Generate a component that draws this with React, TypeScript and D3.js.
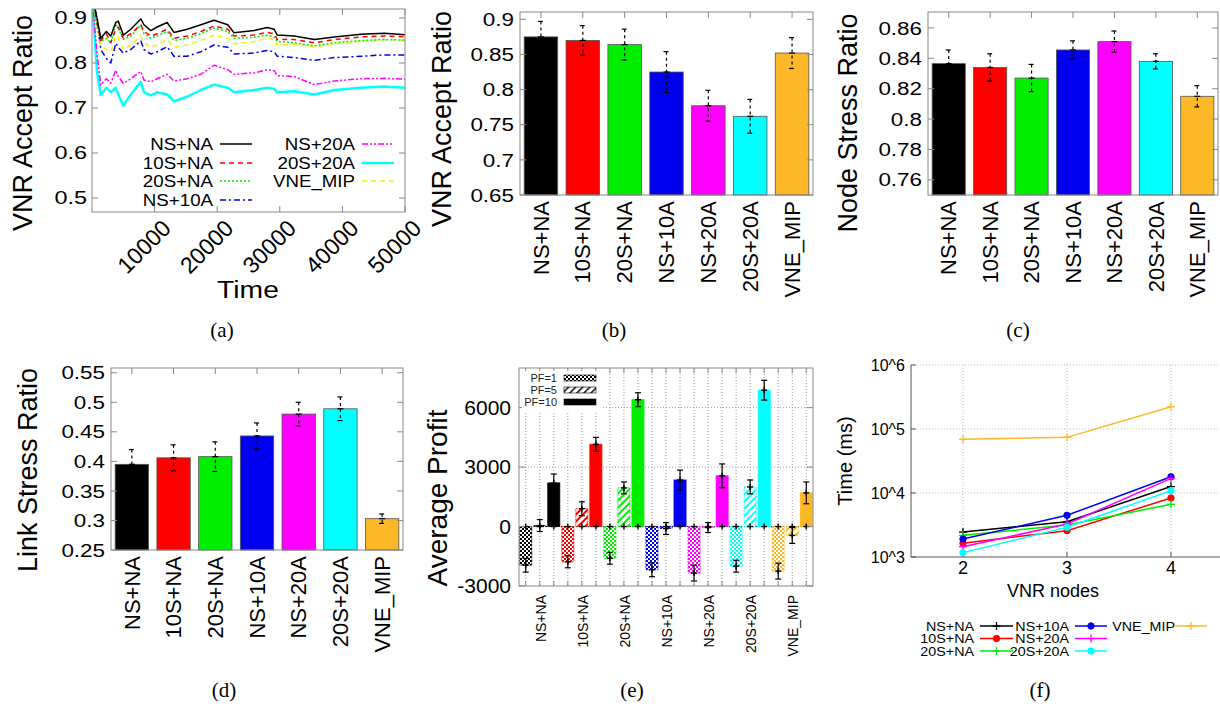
import React from 'react';
import * as d3 from 'd3';

// ---- data ----
const schemes = ['NS+NA', '10S+NA', '20S+NA', 'NS+10A', 'NS+20A', '20S+20A', 'VNE_MIP'];
const colors = ['#000000', '#ff0000', '#00ee00', '#0000ee', '#ff00ff', '#00ffff', '#fdb827'];

// (a) accept ratio over time
const times = [0, 800, 1400, 2300, 3000, 3800, 4200, 5000, 6200, 7800, 8300, 9400, 10400, 12000, 13100, 15200, 17400, 19500, 21700, 22700, 25900, 28000, 29100, 29600, 32300, 35500, 38700, 43000, 46700, 50000];
const acceptNSNA = [0.95, 0.9, 0.855, 0.87, 0.86, 0.89, 0.893, 0.862, 0.875, 0.898, 0.885, 0.872, 0.88, 0.89, 0.868, 0.875, 0.885, 0.895, 0.885, 0.867, 0.872, 0.879, 0.875, 0.862, 0.86, 0.852, 0.858, 0.864, 0.866, 0.863];
const accept10SNA = [0.95, 0.89, 0.85, 0.865, 0.845, 0.875, 0.88, 0.855, 0.865, 0.885, 0.87, 0.86, 0.865, 0.875, 0.855, 0.86, 0.87, 0.882, 0.875, 0.86, 0.862, 0.868, 0.865, 0.852, 0.852, 0.845, 0.852, 0.858, 0.86, 0.858];
const accept20SNA = [0.95, 0.88, 0.848, 0.855, 0.845, 0.887, 0.878, 0.852, 0.86, 0.885, 0.865, 0.855, 0.86, 0.87, 0.85, 0.855, 0.865, 0.878, 0.87, 0.855, 0.857, 0.862, 0.858, 0.848, 0.845, 0.838, 0.845, 0.85, 0.852, 0.851];
const acceptNS10A = [0.95, 0.9, 0.83, 0.81, 0.8, 0.844, 0.835, 0.822, 0.83, 0.849, 0.83, 0.82, 0.825, 0.836, 0.815, 0.815, 0.825, 0.84, 0.835, 0.82, 0.822, 0.828, 0.825, 0.815, 0.812, 0.806, 0.812, 0.815, 0.818, 0.818];
const acceptNS20A = [0.95, 0.82, 0.751, 0.765, 0.755, 0.784, 0.77, 0.755, 0.765, 0.781, 0.762, 0.758, 0.765, 0.775, 0.76, 0.765, 0.775, 0.795, 0.785, 0.775, 0.778, 0.785, 0.783, 0.772, 0.77, 0.752, 0.76, 0.765, 0.766, 0.764];
const accept20S20A = [0.95, 0.78, 0.729, 0.745, 0.735, 0.745, 0.73, 0.705, 0.73, 0.758, 0.735, 0.728, 0.735, 0.73, 0.715, 0.725, 0.74, 0.752, 0.745, 0.735, 0.74, 0.745, 0.742, 0.735, 0.737, 0.73, 0.74, 0.745, 0.748, 0.745];
const acceptMIP = [0.95, 0.88, 0.84, 0.83, 0.825, 0.86, 0.858, 0.83, 0.84, 0.86, 0.845, 0.835, 0.84, 0.852, 0.835, 0.84, 0.85, 0.862, 0.855, 0.842, 0.848, 0.855, 0.852, 0.84, 0.842, 0.836, 0.842, 0.848, 0.852, 0.85];
const simTimeTicks = [10000, 20000, 30000, 40000, 50000];
const ratioTicksA = [0.5, 0.6, 0.7, 0.8, 0.9];

// (b) accept ratio bars
const acceptMean = [0.875, 0.87, 0.864, 0.825, 0.777, 0.762, 0.852];
const acceptErr = [0.022, 0.021, 0.022, 0.029, 0.022, 0.024, 0.022];
const acceptTicks = [0.65, 0.7, 0.75, 0.8, 0.85, 0.9];

// (c) node stress
const nodeStress = [0.8365, 0.834, 0.827, 0.8455, 0.851, 0.838, 0.815];
const nodeErr = [0.009, 0.009, 0.009, 0.006, 0.007, 0.005, 0.007];
const nodeTicks = [0.76, 0.78, 0.8, 0.82, 0.84, 0.86];

// (d) link stress
const linkStress = [0.395, 0.406, 0.408, 0.443, 0.48, 0.489, 0.303];
const linkErr = [0.025, 0.022, 0.025, 0.022, 0.02, 0.02, 0.008];
const linkTicks = [0.25, 0.3, 0.35, 0.4, 0.45, 0.5, 0.55];

// (e) average profit
const profitPF1 = [-1950, -1780, -1600, -2180, -2350, -2000, -2250];
const profitPF5 = [50, 900, 1950, -100, -50, 2000, -450];
const profitPF10 = [2200, 4150, 6400, 2350, 2560, 6880, 1700];
const errPF1 = [350, 300, 300, 350, 400, 300, 400];
const errPF5 = [300, 350, 300, 300, 250, 350, 400];
const errPF10 = [450, 350, 350, 500, 600, 500, 550];
const profitTicks = [-3000, 0, 3000, 6000];
const pfLabels = ['PF=1', 'PF=5', 'PF=10'];

// (f) running time
const vnrNodes = [2, 3, 4];
const timeNSNA = [2450, 3560, 12600];
const time10SNA = [1640, 2580, 8340];
const time20SNA = [2180, 3160, 6650];
const timeNS10A = [1910, 4480, 17900];
const timeNS20A = [1450, 3280, 16900];
const time20S20A = [1170, 2910, 10900];
const timeMIP = [69000, 74000, 223000];
const msTicks = [1e3, 1e4, 1e5, 1e6];
const msTickLabels = ['10^3', '10^4', '10^5', '10^6'];

const SANS = '"Liberation Sans", Arial, sans-serif';
const SERIF = '"Liberation Serif", "DejaVu Serif", serif';

const HText = ({ x, y, size, anchor = 'middle', sx = 1, dy = '0.35em', fill = '#000', family = SANS, children }: any) => (
  <g transform={`translate(${x},${y}) scale(${sx},1)`}>
    <text textAnchor={anchor} fontSize={size} fontFamily={family} dy={dy} fill={fill}>{children}</text>
  </g>
);

const VText = ({ x, y, size, anchor = 'middle', children }: any) => (
  <text transform={`translate(${x},${y}) rotate(-90)`} textAnchor={anchor} fontSize={size} fontFamily={SANS} dy="0.35em">{children}</text>
);

const fmt = (v: number) => String(+v.toFixed(3));

// ---------- (a) ----------
const PanelA = () => {
  const x0 = 92, x1 = 405, y0 = 9, y1 = 212;
  const x = d3.scaleLinear().domain([0, 50000]).range([x0, x1]);
  const y = d3.scaleLinear().domain([0.5, 0.9]).range([198, 18]);
  const series = [
    { name: 'NS+NA', v: acceptNSNA, c: colors[0], dash: '', w: 1.5 },
    { name: '10S+NA', v: accept10SNA, c: colors[1], dash: '5,4', w: 1.5 },
    { name: '20S+NA', v: accept20SNA, c: colors[2], dash: '2,2', w: 1.5 },
    { name: 'NS+10A', v: acceptNS10A, c: colors[3], dash: '6,3,2,3', w: 1.5 },
    { name: 'NS+20A', v: acceptNS20A, c: colors[4], dash: '6,2,2,2,2,2', w: 1.5 },
    { name: '20S+20A', v: accept20S20A, c: colors[5], dash: '', w: 2.5 },
    { name: 'VNE_MIP', v: acceptMIP, c: '#f2f200', dash: '5,4', w: 1.5 },
  ];
  const line = d3.line<number>().x((_, i) => x(times[i])).y((d) => y(d));
  const drawOrder = [5, 4, 3, 6, 2, 1, 0];
  const legendPos = [
    [213, 144], [213, 163], [213, 181], [213, 200], [355, 144], [355, 163], [355, 181],
  ];
  return (
    <g>
      <defs>
        <clipPath id="clipA"><rect x={x0} y={y0} width={x1 - x0} height={y1 - y0} /></clipPath>
      </defs>
      <g clipPath="url(#clipA)">
        {drawOrder.map((i) => (
          <path key={i} d={line(series[i].v) || ''} fill="none" stroke={series[i].c} strokeWidth={series[i].w} strokeDasharray={series[i].dash} strokeLinejoin="round" />
        ))}
      </g>
      <rect x={x0} y={y0} width={x1 - x0} height={y1 - y0} fill="none" stroke="#888" />
      {ratioTicksA.map((t) => (
        <g key={t}>
          <line x1={x0} x2={x0 + 6} y1={y(t)} y2={y(t)} stroke="#888" />
          <line x1={x1} x2={x1 - 6} y1={y(t)} y2={y(t)} stroke="#888" />
          <HText x={x0 - 5} y={y(t)} size={18} sx={1.3} anchor="end">{fmt(t)}</HText>
        </g>
      ))}
      {simTimeTicks.map((t) => (
        <g key={t}>
          <line x1={x(t)} x2={x(t)} y1={y1} y2={y1 - 6} stroke="#888" />
          <line x1={x(t)} x2={x(t)} y1={y0} y2={y0 + 6} stroke="#888" />
          <text transform={`translate(${x(t) + 12},${y1 + 12}) rotate(-45)`} textAnchor="end" fontSize={23} fontFamily={SANS} dy="0.35em">{t}</text>
        </g>
      ))}
      <HText x={248} y={290} size={24} sx={1.18}>Time</HText>
      <VText x={23} y={123} size={27}>VNR Accept Ratio</VText>
      {series.map((s, i) => {
        const [lx, ly] = legendPos[i];
        return (
          <g key={s.name}>
            <HText x={lx} y={ly} size={17} sx={1.1} anchor="end">{s.name}</HText>
            <line x1={lx + 7} x2={lx + 39} y1={ly} y2={ly} stroke={s.c} strokeWidth={s.w} strokeDasharray={s.dash} />
          </g>
        );
      })}
    </g>
  );
};

// ---------- (b)(c)(d) ----------
const BarPanel = ({ x0, x1, y0, y1, values, errs, domain, ticks, title, titleX, titleY }: any) => {
  const x = d3.scaleBand<string>().domain(schemes).range([x0, x1]).paddingInner(0.2).paddingOuter(0.1);
  const y = d3.scaleLinear().domain(domain).range([y1, y0]);
  const bw = x.bandwidth();
  return (
    <g>
      {schemes.map((s, i) => {
        const cx = (x(s) as number) + bw / 2;
        const v = values[i], e = errs[i];
        return (
          <g key={s}>
            <rect x={x(s)} y={y(v)} width={bw} height={y1 - y(v)} fill={colors[i]} stroke="#555" strokeWidth={0.8} />
            <line x1={cx} x2={cx} y1={y(v + e)} y2={y(v - e)} stroke="#000" strokeWidth={1.2} strokeDasharray="3,3" />
            <line x1={cx - 3} x2={cx + 2} y1={y(v + e)} y2={y(v + e)} stroke="#000" strokeWidth={1.2} />
            <line x1={cx - 3} x2={cx + 2} y1={y(v - e)} y2={y(v - e)} stroke="#000" strokeWidth={1.2} />
            <line x1={cx - 3} x2={cx + 3} y1={y(v)} y2={y(v)} stroke="#000" strokeWidth={1.2} />
            <line x1={cx} x2={cx} y1={y0} y2={y0 + 6} stroke="#888" />
            <text transform={`translate(${cx},${y1 + 6}) rotate(-90)`} textAnchor="end" fontSize={22} fontFamily={SANS} dy="0.35em">{s}</text>
          </g>
        );
      })}
      <rect x={x0} y={y0} width={x1 - x0} height={y1 - y0} fill="none" stroke="#888" />
      {ticks.map((t: number) => (
        <g key={t}>
          <line x1={x0} x2={x0 + 6} y1={y(t)} y2={y(t)} stroke="#888" />
          <line x1={x1} x2={x1 - 6} y1={y(t)} y2={y(t)} stroke="#888" />
          <HText x={x0 - 6} y={y(t)} size={19} sx={1.18} anchor="end">{fmt(t)}</HText>
        </g>
      ))}
      <VText x={titleX} y={titleY} size={27}>{title}</VText>
    </g>
  );
};

// ---------- (e) ----------
const PanelE = () => {
  const x0 = 519, x1 = 813, y0 = 368, y1 = 586;
  const idx = d3.range(21);
  const x = d3.scaleBand<number>().domain(idx).range([x0, x1]).paddingInner(0.14).paddingOuter(0.05);
  const y = d3.scaleLinear().domain([-3000, 8000]).range([y1, y0]);
  const bw = x.bandwidth();
  const bars = idx.map((k) => {
    const g = Math.floor(k / 3), p = k % 3;
    const v = [profitPF1, profitPF5, profitPF10][p][g];
    const e = [errPF1, errPF5, errPF10][p][g];
    return { k, g, p, v, e, cx: (x(k) as number) + bw / 2 };
  });
  const plus = (cx: number, cy: number, key: string) => (
    <g key={key}>
      <line x1={cx - 3} x2={cx + 3} y1={cy} y2={cy} stroke="#000" strokeWidth={1.4} />
      <line x1={cx} x2={cx} y1={cy - 3} y2={cy + 3} stroke="#000" strokeWidth={1.4} />
    </g>
  );
  const fillFor = (b: any) => (b.p === 0 ? `url(#chk${b.g})` : b.p === 1 ? `url(#hat${b.g})` : colors[b.g]);
  return (
    <g>
      <defs>
        {colors.map((c, g) => (
          <React.Fragment key={g}>
            <pattern id={`chk${g}`} width={4} height={4} patternUnits="userSpaceOnUse">
              <rect width={4} height={4} fill={c} />
              <rect width={2} height={2} fill="#fff" />
              <rect x={2} y={2} width={2} height={2} fill="#fff" />
            </pattern>
            <pattern id={`hat${g}`} width={5} height={5} patternUnits="userSpaceOnUse" patternTransform="rotate(45)">
              <rect width={5} height={5} fill="#fff" />
              <rect width={2} height={5} fill={c} />
            </pattern>
          </React.Fragment>
        ))}
        <pattern id="chkK" width={4} height={4} patternUnits="userSpaceOnUse">
          <rect width={4} height={4} fill="#000" />
          <rect width={2} height={2} fill="#fff" />
          <rect x={2} y={2} width={2} height={2} fill="#fff" />
        </pattern>
        <pattern id="hatK" width={5} height={5} patternUnits="userSpaceOnUse" patternTransform="rotate(45)">
          <rect width={5} height={5} fill="#fff" />
          <rect width={1.5} height={5} fill="#000" />
        </pattern>
      </defs>
      {[3000, 6000].map((t) => (
        <line key={t} x1={x0} x2={x1} y1={y(t)} y2={y(t)} stroke="#999" strokeDasharray="1,2" />
      ))}
      {bars.map((b) => (
        <line key={b.k} x1={b.cx} x2={b.cx} y1={y0} y2={y1} stroke="#999" strokeDasharray="1,2" />
      ))}
      <line x1={x0} x2={x1} y1={y(0)} y2={y(0)} stroke="#000" strokeDasharray="1,2" />
      {bars.map((b) => (
        <rect key={b.k} x={x(b.k)} y={Math.min(y(b.v), y(0))} width={bw} height={Math.abs(y(b.v) - y(0))} fill={fillFor(b)}
          stroke={colors[b.g]} strokeWidth={0.8} strokeDasharray={b.p === 2 ? '' : '2,1'} />
      ))}
      {bars.map((b) => (
        <g key={b.k}>
          <line x1={b.cx} x2={b.cx} y1={y(b.v + b.e)} y2={y(b.v - b.e)} stroke="#000" strokeWidth={1.2} />
          <line x1={b.cx - 3} x2={b.cx + 3} y1={y(b.v + b.e)} y2={y(b.v + b.e)} stroke="#000" strokeWidth={1.2} />
          <line x1={b.cx - 3} x2={b.cx + 3} y1={y(b.v - b.e)} y2={y(b.v - b.e)} stroke="#000" strokeWidth={1.2} />
          {plus(b.cx, y(b.v), 'v')}
          {plus(b.cx, y(0), 'z')}
          <line x1={b.cx} x2={b.cx} y1={y0} y2={y0 + 5} stroke="#888" />
          <line x1={b.cx} x2={b.cx} y1={y1} y2={y1 - 5} stroke="#888" />
        </g>
      ))}
      <rect x={x0} y={y0} width={x1 - x0} height={y1 - y0} fill="none" stroke="#888" />
      {profitTicks.map((t) => (
        <g key={t}>
          <line x1={x0} x2={x0 + 6} y1={y(t)} y2={y(t)} stroke="#888" />
          <line x1={x1} x2={x1 - 6} y1={y(t)} y2={y(t)} stroke="#888" />
          <HText x={x0 - 8} y={y(t)} size={21} anchor="end">{t}</HText>
        </g>
      ))}
      {schemes.map((s, g) => (
        <text key={s} transform={`translate(${bars[g * 3 + 1].cx + 1},${y1 + 9}) rotate(-90)`} textAnchor="end" fontSize={14} fontFamily={SANS} dy="0.35em">{s}</text>
      ))}
      <rect x={x0 + 3} y={y0 + 3} width={80} height={40} fill="#fff" />
      {pfLabels.map((l, i) => (
        <g key={l}>
          <HText x={557} y={378 + i * 12} size={11} anchor="end" fill="#222">{l}</HText>
          <rect x={564} y={375 + i * 12} width={32} height={6} fill={i === 0 ? 'url(#chkK)' : i === 1 ? 'url(#hatK)' : '#000'} stroke="#000" strokeWidth={0.6} />
        </g>
      ))}
      <VText x={437} y={498} size={28}>Average Profit</VText>
    </g>
  );
};

// ---------- (f) ----------
const PanelF = () => {
  const x0 = 911, y0 = 365, y1 = 557;
  const x = d3.scaleLinear().domain([1.5, 4.5]).range([x0, 1223]);
  const y = d3.scaleLog().domain([1e3, 1e6]).range([y1, y0]);
  const series = [
    { name: 'NS+NA', v: timeNSNA, c: colors[0], m: 'plus' },
    { name: '10S+NA', v: time10SNA, c: colors[1], m: 'circle' },
    { name: '20S+NA', v: time20SNA, c: colors[2], m: 'plus' },
    { name: 'NS+10A', v: timeNS10A, c: colors[3], m: 'circle' },
    { name: 'NS+20A', v: timeNS20A, c: colors[4], m: 'plus' },
    { name: '20S+20A', v: time20S20A, c: colors[5], m: 'circle' },
    { name: 'VNE_MIP', v: timeMIP, c: colors[6], m: 'plus' },
  ];
  const line = d3.line<number>().x((_, i) => x(vnrNodes[i])).y((d) => y(d));
  const marker = (m: string, c: string, cx: number, cy: number, key: any) =>
    m === 'circle' ? (
      <circle key={key} cx={cx} cy={cy} r={3.2} fill={c} stroke={c} />
    ) : (
      <g key={key}>
        <line x1={cx - 4} x2={cx + 4} y1={cy} y2={cy} stroke={c} strokeWidth={1.3} />
        <line x1={cx} x2={cx} y1={cy - 4} y2={cy + 4} stroke={c} strokeWidth={1.3} />
      </g>
    );
  const legendPos = [
    [974, 626], [974, 638.5], [974, 651], [1069, 626], [1069, 638.5], [1069, 651], [1175, 626],
  ];
  return (
    <g>
      {msTicks.slice(1).map((t) => (
        <line key={t} x1={x0} x2={1220} y1={y(t)} y2={y(t)} stroke="#bbb" strokeDasharray="1,2" />
      ))}
      {vnrNodes.map((n) => (
        <line key={n} x1={x(n)} x2={x(n)} y1={y0} y2={y1} stroke="#bbb" strokeDasharray="1,2" />
      ))}
      <line x1={x0} x2={x0} y1={y0} y2={y1} stroke="#555" />
      <line x1={x0} x2={1220} y1={y1} y2={y1} stroke="#555" />
      {msTicks.map((t, i) => (
        <g key={t}>
          <line x1={x0} x2={x0 + 5} y1={y(t)} y2={y(t)} stroke="#555" />
          <HText x={x0 - 6} y={y(t)} size={16} anchor="end">{msTickLabels[i]}</HText>
        </g>
      ))}
      {vnrNodes.map((n) => (
        <g key={n}>
          <line x1={x(n)} x2={x(n)} y1={y1} y2={y1 - 5} stroke="#555" />
          <HText x={x(n)} y={568} size={18}>{n}</HText>
        </g>
      ))}
      <HText x={1053} y={591} size={18}>VNR nodes</HText>
      <VText x={845} y={461} size={20}>Time (ms)</VText>
      {series.map((s) => (
        <g key={s.name}>
          <path d={line(s.v) || ''} fill="none" stroke={s.c} strokeWidth={1.5} />
          {s.v.map((d, i) => marker(s.m, s.c, x(vnrNodes[i]), y(d), i))}
        </g>
      ))}
      {series.map((s, i) => {
        const [lx, ly] = legendPos[i];
        const lx0 = i === 6 ? lx : lx + 6;
        const lx1 = i === 6 ? lx + 32 : lx < 1000 ? lx + 39 : lx + 38;
        return (
          <g key={s.name}>
            <line x1={lx0} x2={lx1} y1={ly} y2={ly} stroke={s.c} strokeWidth={1.5} />
            {marker(s.m, s.c, (lx0 + lx1) / 2, ly, 'm')}
            <HText x={lx} y={ly} size={13} sx={1.1} anchor="end">{s.name}</HText>
          </g>
        );
      })}
    </g>
  );
};

const captions = [
  ['(a)', 222, 330], ['(b)', 614, 330], ['(c)', 1018, 330],
  ['(d)', 224, 690], ['(e)', 632, 690], ['(f)', 1040, 690],
];

export default function App() {
  return (
    <svg width={1220} height={706} style={{ position: 'absolute', left: 0, top: 0, background: '#fff' }}>
      <rect width={1220} height={706} fill="#fff" />
      <PanelA />
      <BarPanel x0={520} x1={813} y0={12} y1={195} values={acceptMean} errs={acceptErr} domain={[0.65, 0.9104]} ticks={acceptTicks} title="VNR Accept Ratio" titleX={442} titleY={119} />
      <BarPanel x0={928} x1={1218} y0={12} y1={195} values={nodeStress} errs={nodeErr} domain={[0.75, 0.8705]} ticks={nodeTicks} title="Node Stress Ratio" titleX={848} titleY={123} />
      <BarPanel x0={111} x1={403} y0={368} y1={550} values={linkStress} errs={linkErr} domain={[0.25, 0.558]} ticks={linkTicks} title="Link Stress Ratio" titleX={28} titleY={470} />
      <PanelE />
      <PanelF />
      {captions.map(([t, cx, cy]) => (
        <HText key={t as string} x={cx} y={cy} size={21} family={SERIF}>{t}</HText>
      ))}
    </svg>
  );
}
